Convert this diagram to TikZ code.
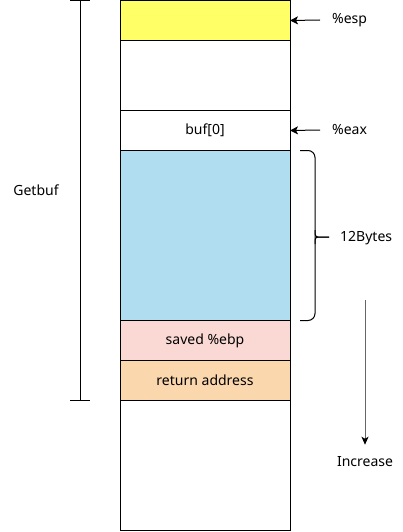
\documentclass[tikz,border=0pt]{standalone}
\usepackage{fontspec}
\setmainfont{Noto Sans}
\usetikzlibrary{arrows.meta}
\begin{document}
\begin{tikzpicture}[x=1pt,y=-1pt,
  cell/.style={draw=black, line width=1pt, minimum width=170pt, inner sep=0pt, outer sep=0pt, anchor=north west, font=\fontsize{14}{16}\selectfont},
  lbl/.style={font=\fontsize{14}{16}\selectfont, inner sep=0pt},
  ptr/.style={-{Stealth[length=8pt,width=8pt,inset=2pt]}, line width=1pt}
]
\useasboundingbox (0,0) rectangle (402,532);
\definecolor{cyellow}{HTML}{FFFF66}
\definecolor{cblue}{HTML}{B1DDF0}
\definecolor{cpink}{HTML}{FAD9D5}
\definecolor{corange}{HTML}{FAD7AC}
\node[cell, fill=cyellow, minimum height=40pt] (r1) at (120,0.5) {};
\node[cell, fill=white, minimum height=70pt] (r2) at (120,40.5) {};
\node[cell, fill=white, minimum height=40pt] (r3) at (120,110.5) {buf[0]};
\node[cell, fill=cblue, minimum height=170pt] (r4) at (120,150.5) {};
\node[cell, fill=cpink, minimum height=40pt] (r5) at (120,320.5) {saved \%ebp};
\node[cell, fill=corange, minimum height=40pt] (r6) at (120,360.5) {return address};
\node[cell, fill=white, minimum height=130pt] (r7) at (120,400.5) {};
% Getbuf span
\coordinate (gt) at (80,0.5);
\coordinate (gb) at (80,400.5);
\draw[line width=1pt] (gt) -- (gb);
\draw[line width=1pt] ([xshift=-10pt]gt) -- ([xshift=10pt]gt);
\draw[line width=1pt] ([xshift=-10pt]gb) -- ([xshift=10pt]gb);
\node[lbl] (getbuf) at (36,190) {Getbuf};
% pointers
\node[lbl, anchor=west] (esp) at (332,20) {\%esp};
\node[lbl, anchor=west] (eax) at (332,130) {\%eax};
\draw[ptr] ([xshift=-12pt]esp.west) -- (r1.east);
\draw[ptr] ([xshift=-12pt]eax.west) -- (r3.east);
% brace
\coordinate (bt) at (300,150.5);
\coordinate (bb) at (300,320.5);
\draw[line width=1pt, rounded corners=7pt] (bt) -- (315,150.5) -- (315,237);
\draw[line width=1pt, rounded corners=7pt] (bb) -- (315,320.5) -- (315,237);
\draw[line width=1pt, rounded corners=3pt] (315,230) -- (315,237) -- (329,237);
\draw[line width=1pt, rounded corners=3pt] (315,244) -- (315,237) -- (329,237);
\node[lbl, anchor=west] (bytes) at (340,238) {12Bytes};
% increase
\node[lbl] (inc) at (365,462) {Increase};
\coordinate (it) at (365,300);
\draw[-{Stealth[length=8pt,width=7pt,inset=2pt,color=black]}, draw=black!60, line width=1pt] (it) -- ([yshift=12pt]inc.north);
\end{tikzpicture}
\end{document}
